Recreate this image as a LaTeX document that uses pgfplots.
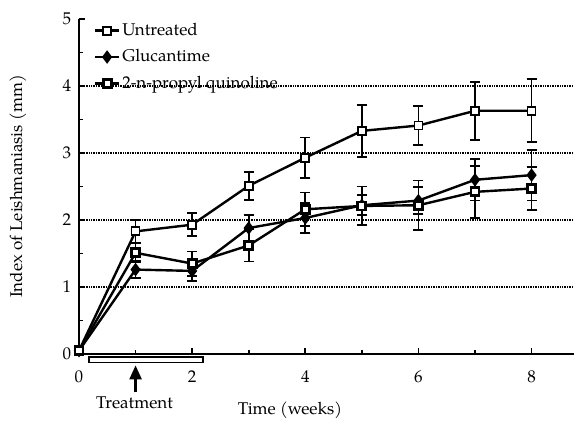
\documentclass[border=0pt]{standalone}
\usepackage{fontspec}
\setmainfont{TeX Gyre Pagella}
\usepackage{pgfplots}
\pgfplotsset{compat=1.18}
\usetikzlibrary{arrows.meta}
\begin{document}
\fontsize{17}{20}\selectfont
\begin{tikzpicture}
\useasboundingbox (-79pt,-67pt) rectangle (495pt,354pt);
\begin{axis}[
  at={(0pt,0pt)}, anchor=south west,
  scale only axis, width=495pt, height=335pt,
  xmin=0, xmax=8.75, ymin=0, ymax=5,
  clip=false,
  axis x line*=bottom, axis y line*=left,
  axis line style={line width=2.2pt, black},
  xtick={0,2,4,6,8}, minor xtick={1,3,5,7},
  ytick={0,1,2,3,4,5}, minor ytick={0.5,1.5,2.5,3.5,4.5},
  tick align=inside, major tick length=6pt, minor tick length=4pt,
  tick style={line width=1.6pt, black},
  xticklabel style={yshift=-11pt},
  yticklabel style={xshift=-2pt},
  /pgf/number format/assume math mode=true,
  ticklabel style={font=\fontsize{17}{20}\selectfont},
  legend style={at={(axis cs:0.26,4.97)}, anchor=north west, draw=none, fill=none,
    font=\fontsize{17}{20}\selectfont, row sep=7.5pt, inner sep=0pt},
  legend cell align=left,
  legend image code/.code={
    \draw[mark repeat=2,mark phase=2,#1] plot coordinates {(0pt,0pt) (12pt,0pt) (24pt,0pt)};},
  error bars/error bar style={line width=1.8pt, black},
  error bars/error mark options={rotate=90, mark size=5pt, line width=1.8pt, black},
]
% grid lines
\draw[line width=1.6pt, dash pattern=on 1pt off 0.7pt, black] (axis cs:0,1) -- (axis cs:8.75,1);
\draw[line width=1.6pt, dash pattern=on 1pt off 0.7pt, black] (axis cs:0,2) -- (axis cs:8.75,2);
\draw[line width=1.6pt, dash pattern=on 1pt off 0.7pt, black] (axis cs:0,3) -- (axis cs:8.75,3);
\draw[line width=1.6pt, dash pattern=on 1pt off 0.7pt, black] (axis cs:0,4) -- (axis cs:8.75,4);
% Untreated
\addplot[black, line width=2.4pt, mark=square*, mark options={fill=white, line width=1.8pt, mark size=4pt, solid},
  error bars/.cd, y dir=both, y explicit] coordinates {
  (0,0.05) +- (0,0)
  (1,1.83) +- (0,0.17)
  (2,1.93) +- (0,0.17)
  (3,2.51) +- (0,0.21)
  (4,2.93) +- (0,0.30)
  (5,3.33) +- (0,0.39)
  (6,3.41) +- (0,0.29)
  (7,3.63) +- (0,0.43)
  (8,3.63) +- (0,0.47)
};
\addlegendentry{Untreated}
% Glucantime
\addplot[black, line width=2.4pt, mark=diamond*, mark options={fill=black, mark size=4.8pt, solid},
  error bars/.cd, y dir=both, y explicit] coordinates {
  (0,0.05) +- (0,0)
  (1,1.26) +- (0,0.13)
  (2,1.24) +- (0,0.15)
  (3,1.88) +- (0,0.19)
  (4,2.03) +- (0,0.22)
  (5,2.22) +- (0,0.15)
  (6,2.29) +- (0,0.20)
  (7,2.60) +- (0,0.31)
  (8,2.67) +- (0,0.38)
};
\addlegendentry{Glucantime}
% 2-n-propyl quinoline
\addplot[black, line width=2.4pt, mark=square*, mark options={fill=white, line width=2.8pt, mark size=4pt, solid},
  error bars/.cd, y dir=both, y explicit] coordinates {
  (0,0.05) +- (0,0)
  (1,1.51) +- (0,0.14)
  (2,1.35) +- (0,0.18)
  (3,1.62) +- (0,0.24)
  (4,2.16) +- (0,0.25)
  (5,2.21) +- (0,0.29)
  (6,2.22) +- (0,0.37)
  (7,2.42) +- (0,0.39)
  (8,2.47) +- (0,0.32)
};
\addlegendentry{2-n-propyl quinoline}
% treatment annotation
\draw[line width=1.5pt, fill=white] (axis cs:0.18,-0.045) rectangle (axis cs:2.19,-0.13);
\draw[-{Triangle[width=12pt,length=14pt]}, line width=2.4pt] (axis cs:1,-0.57) -- (axis cs:1,-0.17);
\node at (axis cs:0.98,-0.73) {Treatment};
\node at (axis cs:3.73,-0.84) {Time (weeks)};
\node[rotate=90] at (axis cs:-1.08,2.5) {Index of Leishmaniasis (mm)};
\end{axis}
\end{tikzpicture}
\end{document}
